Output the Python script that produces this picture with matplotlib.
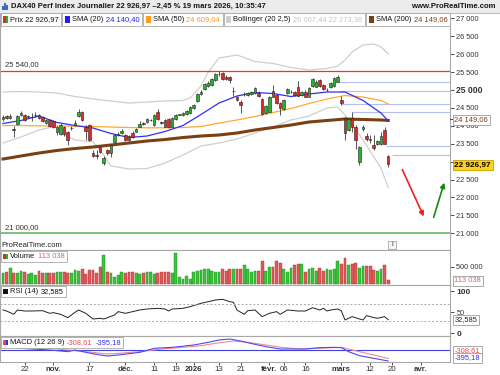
import matplotlib
matplotlib.use('Agg')
import matplotlib.pyplot as plt
from matplotlib.patches import Rectangle
import numpy as np

W, H = 500, 375
plt.rcParams['font.family'] = ['Liberation Sans', 'DejaVu Sans']

# ---------------- data ----------------
opens = [24190, 24273, 24218, 23897, 24050, 24301, 24301, 24246, 24240, 24290,
         24301, 24246, 24078, 24162, 24134, 23827, 23771, 23966, 23827, 23939,
         24022, 24260, 24385, 23966, 24022, 23249, 23185, 23408, 22953, 23325,
         23241, 23556, 23757, 23790, 23743, 23715, 23807, 23835, 23975, 24070,
         24106, 24162, 24022, 24393, 24115, 24162, 24181, 23975, 24181, 24315,
         24301, 24329, 24348, 24488, 24692, 24879, 25018, 25111, 25130, 25278,
         25445, 25465, 25371, 25354, 24971, 24795, 24672, 24887, 24859, 24887,
         24907, 24907, 24739, 24365, 24393, 24971, 24859, 24628, 24460, 24907,
         24943, 24951, 25074, 24859, 24951, 24812, 25111, 25091, 25278, 25138,
         24999, 25074, 25111, 25231, 24720, 24209, 23883, 24218, 23975, 22998,
         23902, 23715, 23618, 23464, 23492, 23492, 23883, 23171]
closes = [24246, 24218, 24273, 23883, 24273, 24357, 24162, 24260, 24250, 24301,
          24218, 24134, 24162, 24008, 23966, 23966, 24036, 23771, 23604, 23952,
          24092, 24385, 24162, 23841, 23604, 23157, 23171, 23277, 23109, 23232,
          23464, 23743, 23771, 23863, 23604, 23604, 23696, 23902, 24042, 24064,
          24181, 24170, 24301, 24181, 24070, 23975, 23975, 24209, 24301, 24320,
          24365, 24421, 24516, 24580, 24879, 24951, 25166, 25203, 25297, 25445,
          25459, 25297, 25297, 25278, 24985, 24720, 24580, 24901, 24924, 24951,
          25046, 24831, 24329, 24552, 24812, 24812, 24628, 24488, 24720, 25018,
          24957, 24859, 24840, 24935, 24812, 25046, 25297, 25231, 25102, 25018,
          25013, 25203, 25326, 25354, 24645, 23799, 24181, 23966, 23604, 23400,
          23958, 23645, 23604, 23380, 23576, 23715, 23503, 22926.97]
highs = [24301, 24301, 24329, 23994, 24301, 24413, 24329, 24301, 24357, 24385,
         24329, 24273, 24190, 24190, 24162, 23994, 24078, 23994, 23855, 23994,
         24162, 24469, 24413, 24022, 24050, 23325, 23325, 23436, 23157, 23352,
         23492, 23771, 23827, 23911, 23771, 23743, 23855, 23939, 24134, 24106,
         24218, 24190, 24329, 24460, 24134, 24190, 24218, 24246, 24329, 24341,
         24385, 24441, 24552, 24608, 24915, 24999, 25194, 25250, 25334, 25473,
         25529, 25501, 25418, 25390, 25083, 24831, 24720, 24943, 24943, 24971,
         25083, 24971, 24776, 24580, 24831, 25138, 24887, 24664, 24748, 25055,
         24999, 24971, 25259, 24971, 24999, 25083, 25334, 25278, 25306, 25166,
         25055, 25222, 25362, 25418, 24831, 24246, 24218, 24385, 24022, 23436,
         24022, 23799, 23743, 23743, 23604, 23835, 23975, 23185]
lows = [24134, 24190, 24190, 23687, 24022, 24273, 24134, 24218, 24134, 24246,
        24190, 24106, 24050, 23966, 23939, 23743, 23743, 23715, 23464, 23883,
        23994, 24246, 24134, 23604, 23576, 23129, 23073, 23241, 22906, 23185,
        23129, 23548, 23715, 23771, 23576, 23576, 23660, 23827, 23966, 24036,
        24078, 24134, 23994, 24162, 24050, 23966, 23952, 23966, 24162, 24290,
        24273, 24301, 24329, 24469, 24664, 24859, 24999, 25083, 25111, 25250,
        25390, 25278, 25278, 25194, 24831, 24692, 24349, 24831, 24831, 24859,
        24887, 24804, 24301, 24329, 24385, 24804, 24608, 24301, 24441, 24887,
        24915, 24831, 24831, 24831, 24804, 24804, 25083, 25083, 25083, 24999,
        24971, 25055, 25083, 25222, 24580, 23604, 23855, 23827, 23352, 22906,
        23855, 23576, 23520, 23325, 23464, 23464, 23492, 22858]
volumes_k = [308, 337, 453, 308, 308, 385, 337, 279, 308, 260,
             385, 308, 308, 308, 308, 337, 356, 337, 328, 308,
             405, 385, 424, 289, 405, 405, 308, 501, 838, 356,
             308, 212, 260, 337, 328, 337, 337, 308, 289, 308,
             337, 337, 289, 308, 356, 337, 337, 320, 886, 193,
             145, 241, 135, 337, 385, 405, 424, 424, 385, 337,
             356, 434, 385, 434, 434, 434, 434, 549, 434, 356,
             385, 385, 665, 385, 482, 501, 665, 597, 434, 356,
             453, 549, 578, 578, 337, 424, 453, 385, 453, 375,
             424, 405, 424, 674, 578, 742, 549, 578, 597, 453,
             520, 520, 520, 405, 385, 424, 549, 113.038]

# indicator lines, sampled at trading-day indices
sma_idx = [0, 5, 10, 15, 20, 25, 30, 35, 40, 45, 50, 55, 60, 65, 70, 75, 80, 85, 90, 95, 100, 105, 107]
sma20 = [24064, 24148, 24273, 24092, 24008, 23938, 23785, 23673, 23715, 23841, 24008, 24315,
         24636, 24831, 24929, 24901, 24817, 24887, 24943, 24943, 24706, 24357, 24140.40]
sma50 = [24008, 24008, 24000, 23994, 23989, 23980, 23966, 23952, 23944, 23944, 23952, 23980,
         24078, 24162, 24259, 24371, 24483, 24622, 24748, 24845, 24804, 24706, 24609.04]
sma200 = [23073, 23157, 23241, 23311, 23366, 23408, 23464, 23520, 23576, 23617, 23673, 23715,
          23743, 23799, 23883, 23952, 24022, 24106, 24148, 24190, 24176, 24162, 24149.06]
bb_up_idx = [0, 5, 10, 15, 20, 25, 30, 35, 40, 45, 50, 52, 55, 57, 60, 65, 70, 75, 80, 85, 90, 93, 95, 97, 100, 103, 105, 107]
bb_up = [24943, 24957, 24943, 24915, 24817, 24748, 24692, 24636, 24664, 24692, 24706, 24776, 25111,
         25501, 25892, 25976, 25794, 25739, 25627, 25557, 25599, 25669, 25836, 26060, 26255, 26283,
         26199, 26007.44]
bb_lo_idx = [0, 5, 10, 13, 15, 17, 20, 25, 27, 30, 35, 40, 45, 50, 55, 60, 65, 70, 75, 80, 85, 90, 93, 95, 100, 105, 107]
bb_lo = [23520, 23687, 23883, 23952, 23952, 23743, 23604, 23548, 23324, 22878, 22794, 22808, 22961,
         23185, 23436, 23520, 23631, 23799, 23966, 24162, 24273, 24497, 24525, 24301, 23604, 22822,
         22273.36]

rsi_idx = [0, 1, 3, 4, 6, 8, 11, 13, 14, 16, 18, 20, 21, 23, 25, 27, 28, 31, 32, 34, 36, 38, 40, 43, 45,
           46, 47, 50, 52, 55, 57, 59, 61, 63, 64, 65, 67, 68, 70, 72, 74, 76, 77, 79, 82, 84, 86, 88,
           89, 90, 91, 93, 94, 95, 97, 99, 100, 101, 102, 103, 104, 106, 107]
rsi_vals = [55.5, 53.1, 45.2, 55.5, 53.1, 53.1, 53.9, 47.6, 49.2, 45.2, 37.3, 50, 55.5, 47.6, 34.1,
            35.7, 34.1, 43.6, 51.6, 47.6, 51.6, 55.5, 57.9, 59.4, 57.9, 53.1, 57.9, 59.4, 63.4, 71.4,
            75.3, 79.3, 80.9, 75.3, 73.8, 55.5, 45.2, 53.9, 55.5, 39.7, 47.6, 51.6, 45.2, 55.5, 53.1,
            53.1, 61.0, 55.5, 59.4, 53.1, 55.5, 57.9, 53.1, 31.8, 39.7, 34.1, 31.8, 42.1, 39.7, 37.3,
            35.7, 39.7, 32.585]

macd_idx = [0, 5, 8, 13, 18, 20, 23, 27, 29, 32, 38, 42, 47, 53, 57, 60, 63, 66, 70, 73, 77, 81, 84,
            88, 92, 94, 96, 99, 102, 105, 107]
macd_vals = [120, 60, 36, 0, -60, 0, -84, -180, -216, -180, -84, 60, 96, 180, 276, 360, 396, 324, 204,
             120, 36, 36, 36, 84, 96, 84, -60, -204, -276, -348, -395.18]
sig_idx = [0, 8, 13, 18, 23, 29, 32, 38, 44, 49, 55, 59, 64, 68, 73, 78, 83, 87, 92, 94, 97, 101, 105, 107]
sig_vals = [84, 60, 60, 0, -60, -144, -120, -60, 36, 84, 156, 240, 324, 276, 180, 84, 36, 60, 84, 96,
            0, -120, -240, -308.61]

level_red = 25540
level_green = 21000
hline_levels = [25214, 24979, 24608, 24378, 23444, 23177]
hline_start = [93, 93.5, 94, 97, 106.5, 108]

arrow_red = [(110.6, 22850), (117.2, 21399)]
arrow_green = [(119.4, 21371), (122.8, 22487)]

date_tick_idx = [6, 14, 24, 34, 42, 48, 53, 60, 66, 74, 78, 84, 94, 102, 108, 116]
date_tick_labels = ['22', 'nov.', '17', 'déc.', '11', '19', '2026', '13', '21', 'févr.', '06', '16',
                    'mars', '12', '20', 'avr.']
bold_labels = {'nov.', 'déc.', '2026', 'févr.', 'mars', 'avr.'}

price_ticks = list(range(21000, 27001, 500))

# ---------------- figure ----------------
fig = plt.figure(figsize=(W / 100, H / 100), dpi=100)
fig.patch.set_facecolor('white')


def ax_rect(y0, y1, x0=0.0, x1=450.0):
    return [x0 / W, 1 - y1 / H, (x1 - x0) / W, (y1 - y0) / H]


ax = fig.add_axes(ax_rect(12.5, 250))
axv = fig.add_axes(ax_rect(250, 285), sharex=ax)
axr = fig.add_axes(ax_rect(285, 336), sharex=ax)
axm = fig.add_axes(ax_rect(336, 362), sharex=ax)

# price scale: 27000 at y=18.3 px, 21000 at y=233.3 px
def px_to_price(y):
    return 27000 - (y - 18.3) * 6000 / 215.0

ax.set_ylim(px_to_price(250), px_to_price(12.5))
axv.set_ylim(-29000, 983000)
axr.set_ylim(-6.4, 115)
axm.set_ylim(-432, 504)

for a in (ax, axv, axr, axm):
    a.set_xlim(-0.83, 124.17)
    for s in a.spines.values():
        s.set_color('#A8A8A8')
        s.set_linewidth(0.8)
    a.yaxis.tick_right()
    a.tick_params(axis='y', which='both', direction='out', length=3, width=0.6,
                  colors='#333333', labelsize=5.3, pad=1.5)
    a.tick_params(axis='x', which='both', bottom=False, labelbottom=False)

# ---------- candles ----------
idx = np.arange(len(closes))
o = np.array(opens, float)
c = np.array(closes, float)
h = np.array(highs, float)
l = np.array(lows, float)
up = c >= o
body_col = np.where(up, '#27B427', '#E02828')

ax.vlines(idx, l, h, color='#3A3A3A', lw=0.6, zorder=4)
ax.bar(idx, np.maximum(np.abs(c - o), 6), bottom=np.minimum(o, c), width=0.72,
       color=body_col, edgecolor='#202020', linewidth=0.4, zorder=5)

ax.plot(bb_up_idx, bb_up, color='#CFCFCF', lw=0.9, zorder=2)
ax.plot(bb_lo_idx, bb_lo, color='#CFCFCF', lw=0.9, zorder=2)
ax.plot(sma_idx, sma50, color='#FFA833', lw=0.9, zorder=3)
ax.plot(sma_idx, sma200, color='#7B4012', lw=2.2, zorder=3)
ax.plot(sma_idx, sma20, color='#3030F0', lw=0.9, zorder=3)

ax.axhline(level_red, color='#FF2A2A', lw=0.9, zorder=2)
ax.axhline(level_green, color='#7CC47C', lw=1.4, zorder=2)
for lev, st in zip(hline_levels, hline_start):
    ax.hlines(lev, st, 124.17, color='#B4BEF2', lw=0.8, zorder=1)

ax.annotate('', xy=arrow_red[1], xytext=arrow_red[0],
            arrowprops=dict(arrowstyle='-|>', color='#F02020', lw=1.2, mutation_scale=7), zorder=6)
ax.annotate('', xy=arrow_green[1], xytext=arrow_green[0],
            arrowprops=dict(arrowstyle='-|>', color='#108A10', lw=1.2, mutation_scale=7), zorder=6)

ax.set_yticks(price_ticks)
# the 23 000 label sits under the yellow last-price box in the reference
ax.set_yticklabels(['' if v == 23000 else f"{v:,}".replace(',', ' ') for v in price_ticks])
for t in ax.get_yticklabels():
    if t.get_text() == '25 000':
        t.set_fontweight('bold')
        t.set_fontsize(6.2)

ax.text(0.5, level_red + 60, '25 540,00', fontsize=5.5, color='#333333', va='bottom', ha='left')
ax.text(0.5, level_green + 60, '21 000,00', fontsize=5.5, color='#333333', va='bottom', ha='left')

# ---------- volume ----------
vols = np.array(volumes_k) * 1000
vol_col = np.where(up, '#3CC43C', '#E05A5A')
vol_edge = np.where(up, '#1E8A1E', '#A83030')
axv.bar(idx, vols, width=0.8, color=vol_col, edgecolor=vol_edge, linewidth=0.3)
axv.set_yticks([500000])
axv.set_yticklabels(['500 000'])

# ---------- RSI ----------
axr.plot(rsi_idx, rsi_vals, color='#222222', lw=0.7)
axr.axhline(70, color='#AAAAAA', lw=0.7, ls=(0, (2, 2)))
axr.axhline(30, color='#AAAAAA', lw=0.7, ls=(0, (2, 2)))
axr.set_yticks([0, 50, 100])
axr.set_yticklabels(['0', '50', '100'])
for t in axr.get_yticklabels():
    if t.get_text() in ('0', '100'):
        t.set_fontweight('bold')
        t.set_fontsize(6.0)

# ---------- MACD ----------
axm.axhline(0, color='#4040E0', lw=0.8)
axm.plot(sig_idx, sig_vals, color='#F08A8A', lw=0.8)
axm.plot(macd_idx, macd_vals, color='#4A4AF5', lw=0.8)
axm.set_yticks([])
axm.tick_params(axis='x', bottom=True, labelbottom=True, length=2.5, width=0.6,
                colors='#333333', labelsize=5.7, pad=0.5)
axm.set_xticks(date_tick_idx)
axm.set_xticklabels(date_tick_labels)
for t in axm.get_xticklabels():
    if t.get_text() in bold_labels:
        t.set_fontweight('bold')

# ---------------- overlays in pixel space ----------------
renderer = fig.canvas.get_renderer()


def frect(x0, y0, x1, y1, fc, ec='none', lw=0.6, z=10):
    r = Rectangle((x0 / W, 1 - y1 / H), (x1 - x0) / W, (y1 - y0) / H, transform=fig.transFigure,
                  facecolor=fc, edgecolor=ec, linewidth=lw, zorder=z)
    fig.add_artist(r)
    return r


def ftext(x, y, s, color='#111111', size=5.4, weight='normal', ha='left', z=12):
    t = fig.text(x / W, 1 - y / H, s, color=color, fontsize=size, fontweight=weight,
                 ha=ha, va='center', zorder=z)
    return t


def seq(x, y, parts, size=5.4, gap=2.6, z=12):
    for s, col, wt in parts:
        t = ftext(x, y, s, col, size, wt, z=z)
        bb = t.get_window_extent(renderer=renderer)
        x += bb.width + gap
    return x - gap


def legend_box(x0, y0, y1, icon, parts, size=5.4):
    r = frect(x0, y0, x0 + 10, y1, 'white', '#A8A8A8', 0.6, z=10)
    ix = x0 + 2.5
    iy0, iy1 = y0 + 3, y1 - 3
    if len(icon) == 2:
        frect(ix, iy0, ix + 2.5, iy1, icon[0], 'none', z=11)
        frect(ix + 2.5, iy0, ix + 5, iy1, icon[1], 'none', z=11)
    else:
        frect(ix, iy0, ix + 5, iy1, icon[0], 'none', z=11)
    xe = seq(x0 + 9.5, (y0 + y1) / 2, parts, size=size)
    r.set_width((xe + 2.5 - x0) / W)
    return xe + 2.5


# title bar
frect(0, 0, 500, 12.5, '#ECECEC', 'none', z=9)
fig.add_artist(plt.Line2D([0, 1], [1 - 12.5 / H] * 2, transform=fig.transFigure, color='#B0B0B0', lw=0.6, zorder=9))
for k, hh in enumerate([4, 7, 5]):
    frect(2 + k * 2.2, 10 - hh, 3.6 + k * 2.2, 10, '#3C6BD0', 'none', z=11)
ftext(11, 6.3, 'DAX40 Perf Index Journalier 22 926,97 –2,45 % 19 mars 2026, 10:35:47',
      color='#151515', size=5.5, weight='bold')
ftext(496, 6.3, 'www.ProRealTime.com', color='#151515', size=5.6, weight='bold', ha='right')

# price legend row
x = 0.5
x = legend_box(x, 13.5, 25.5, ['#D03030', '#30B030'], [('Prix 22 926,97', '#111111', 'normal')]) + 1.2
x = legend_box(x, 13.5, 25.5, ['#2020F0'], [('SMA (20)', '#111111', 'normal'), ('24 140,40', '#2020F0', 'normal')]) + 1.2
x = legend_box(x, 13.5, 25.5, ['#FF9A1A'], [('SMA (50)', '#111111', 'normal'), ('24 609,04', '#FF9A1A', 'normal')]) + 1.2
x = legend_box(x, 13.5, 25.5, ['#CFCFCF'], [('Bollinger (20 2,5)', '#111111', 'normal'), ('26 007,44 22 273,36', '#C4C4C4', 'normal')]) + 1.2
x = legend_box(x, 13.5, 25.5, ['#7B4012'], [('SMA (200)', '#111111', 'normal'), ('24 149,06', '#7B4012', 'normal')])

# lower panel legends
legend_box(0.5, 250.5, 262, ['#D03030', '#30B030'], [('Volume', '#111111', 'normal'), ('113 038', '#E06060', 'normal')])
legend_box(0.5, 285.5, 297, ['#111111'], [('RSI (14)', '#111111', 'normal'), ('32,585', '#111111', 'normal')])
legend_box(0.5, 336.5, 348, ['#E05050', '#3030E0'], [('MACD (12 26 9)', '#111111', 'normal'), ('-308,61', '#E05050', 'normal'), ('-395,18', '#3030F0', 'normal')])

# watermark + info icon
ftext(1, 245.5, 'ProRealTime.com', color='#222222', size=5.5, z=8)
frect(388, 240.5, 396, 248.5, '#F4F4F4', '#999999', 0.5, z=8)
ftext(392, 244.5, 'i', color='#444444', size=5.5, ha='center', z=9)

# right-axis value boxes
def value_box(y, s, fc, tc, weight='normal', x0=452.5, size=5.4, ec='#9A9A9A'):
    t = ftext(x0 + 2, y, s, tc, size, weight, z=14)
    bb = t.get_window_extent(renderer=renderer)
    frect(x0, y - 5, x0 + bb.width + 4, y + 5, fc, ec, 0.6, z=13)


frect(450, 119.2, 453, 119.9, '#7B4012', 'none', z=13)
value_box(119.5, '24 149,06', 'white', '#7B4012')
value_box(165, '22 926,97', '#FFD21A', '#000000', 'bold', size=5.9, ec='#C8A000')
value_box(280.5, '113 038', 'white', '#E06060')
value_box(320, '32,585', 'white', '#222222')
value_box(350.5, '-308,61', 'white', '#E05050')
value_box(357.5, '-395,18', 'white', '#3030F0')

fig.savefig('out.png', dpi=100, facecolor='white')
